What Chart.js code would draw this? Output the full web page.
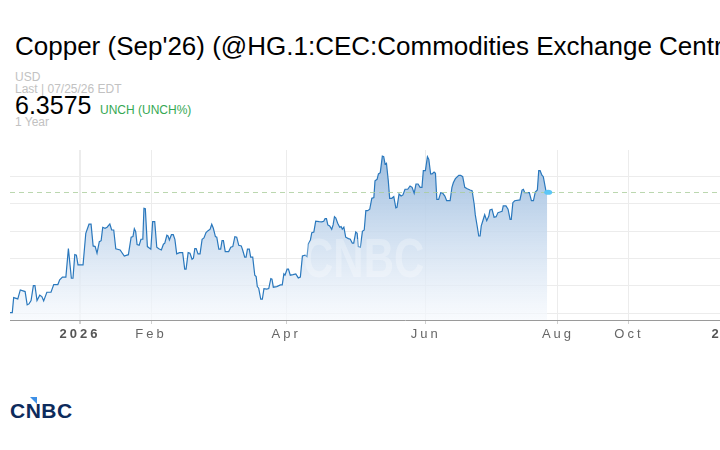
<!DOCTYPE html>
<html>
<head>
<meta charset="utf-8">
<title>Copper (Sep'26)</title>
<script src="https://cdn.jsdelivr.net/npm/chart.js@4.4.1/dist/chart.umd.min.js"></script>
<style>
    html, body {
        margin: 0;
        padding: 0;
        width: 720px;
        height: 450px;
        overflow: hidden;
        background: #fff;
        font-family: "Liberation Sans", Arial, sans-serif;
    }
    .txt { position: absolute; white-space: nowrap; line-height: 1; }
    #title { left: 15px; top: 33px; font-size: 26px; color: #000; }
    #currency { left: 15px; top: 70.5px; font-size: 12px; color: #c2c2c2; }
    #lastTime { left: 15px; top: 82.5px; font-size: 12px; color: #c2c2c2; }
    #price { left: 15px; top: 93px; font-size: 25px; color: #000; }
    #change { left: 100px; top: 104px; font-size: 12px; color: #35a853; }
    #range { left: 15px; top: 116px; font-size: 12px; color: #c2c2c2; }
    #wrap { position: absolute; left: 10px; top: 150px; width: 790px; height: 200px; }
    #watermark {
        left: 303px; top: 231px; font-size: 42px; font-weight: bold;
        color: rgba(255,255,255,0.28); transform: scaleY(1.3); transform-origin: 0 0;
        pointer-events: none;
    }
    #logo { left: 10px; top: 400px; font-size: 21px; font-weight: bold; color: #0d2b5c; letter-spacing: 0.5px; }
    #logoMark {
        position: absolute; left: 30px; top: 397px; width: 0; height: 0;
        border-top: 7px solid #3d8fe6; border-left: 7px solid transparent;
    }
</style>
</head>
<body>
<div class="txt" id="title">Copper (Sep'26) (@HG.1:CEC:Commodities Exchange Centre)</div>
<div class="txt" id="currency">USD</div>
<div class="txt" id="lastTime">Last | 07/25/26 EDT</div>
<div class="txt" id="price">6.3575</div>
<div class="txt" id="change">UNCH (UNCH%)</div>
<div class="txt" id="range">1 Year</div>

<div id="wrap"><canvas id="chart" width="790" height="200" style="width:790px;height:200px"></canvas></div>
<div class="txt" id="watermark">CNBC</div>

<div class="txt" id="logo">CNBC</div>
<div id="logoMark"></div>

<script>
/* ============================
   DATA
   days = calendar days from 1 Jan 2026
============================ */
const days = [
    -30.6, -29.6, -29.0, -27.2, -26.1, -24.0, -23.1, -22.3, -21.4, -20.4,
    -19.7, -18.8, -17.6, -16.7, -15.9, -14.5, -12.7, -11.5, -9.7, -8.9,
    -7.7, -6.2, -5.1, -3.8, -3.1, -2.3, -1.6, -0.9, 1.3, 2.5,
    3.9, 4.8, 5.7, 6.6, 7.4, 8.4, 9.2, 9.9, 10.9, 11.8,
    13.0, 13.8, 14.7, 15.6, 17.5, 19.3, 21.1, 22.3, 23.1, 23.7,
    24.3, 24.9, 25.8, 26.6, 27.4, 27.9, 28.5, 29.4, 30.9, 31.7,
    32.6, 33.5, 34.4, 35.5, 36.4, 37.0, 37.9, 38.4, 39.0, 39.9,
    40.7, 41.4, 42.2, 43.4, 44.8, 45.7, 46.3, 47.2, 48.0, 48.9,
    49.5, 50.1, 50.7, 51.5, 52.4, 53.3, 54.1, 55.0, 55.9, 56.8,
    57.5, 58.2, 59.1, 59.7, 60.6, 61.4, 62.0, 62.6, 63.4, 64.9,
    65.8, 66.7, 67.6, 68.4, 69.3, 70.4, 71.0, 71.9, 72.5, 73.1,
    73.9, 74.5, 75.4, 76.3, 76.9, 77.4, 78.0, 78.9, 79.6, 80.3,
    81.5, 82.4, 83.3, 83.8, 84.4, 85.9, 87.5, 88.3, 89.0, 89.5,
    90.4, 91.0, 91.8, 93.0, 94.2, 95.3, 96.2, 97.1, 98.3, 99.1,
    99.7, 100.6, 101.2, 102.1, 102.9, 104.4, 105.5, 106.4, 107.0, 107.6,
    108.2, 109.0, 109.9, 110.5, 111.1, 111.7, 112.5, 113.4, 114.0, 114.5,
    115.2, 116.0, 117.2, 118.0, 118.9, 119.5, 120.4, 121.0, 121.5, 122.4,
    123.3, 124.1, 124.8, 125.6, 126.5, 127.4, 128.3, 128.8, 129.7, 130.3,
    131.1, 132.0, 132.6, 133.2, 133.8, 134.6, 135.2, 136.1, 137.0, 137.9,
    138.4, 139.3, 140.2, 141.0, 141.9, 143.1, 144.1, 145.0, 145.9, 146.7,
    147.6, 148.5, 149.3, 149.9, 150.8, 151.7, 152.3, 153.1, 153.7, 154.6,
    155.2, 155.8, 156.6, 157.5, 158.4, 159.3, 160.1, 161.6, 162.4, 163.0,
    163.9, 165.4, 166.2, 167.1, 168.0, 169.1, 170.3, 171.2, 172.1, 172.6,
    173.5, 174.1, 174.7, 175.2, 175.9, 176.7, 177.6, 178.5, 179.0, 179.9,
    180.8, 181.7, 182.5, 183.4, 184.3, 184.8, 186.0, 186.9, 187.8, 188.3,
    189.0, 189.8, 192.1, 193.0, 193.6, 194.2, 196.2, 197.1, 198.0, 198.8,
    199.7, 200.3, 200.9, 201.7, 202.3, 203.5, 204
];

const prices = [
    5.256, 5.256, 5.393, 5.381, 5.463, 5.448, 5.326, 5.335, 5.366, 5.503,
    5.503, 5.366, 5.415, 5.402, 5.363, 5.442, 5.442, 5.512, 5.512, 5.555,
    5.580, 5.580, 5.841, 5.570, 5.570, 5.786, 5.781, 5.692, 5.692, 5.982,
    6.065, 6.065, 5.866, 5.860, 5.799, 5.905, 5.914, 6.037, 6.028, 6.037,
    6.067, 6.012, 6.012, 5.839, 5.829, 5.774, 5.786, 5.946, 5.951, 6.024,
    5.997, 5.878, 5.872, 5.927, 5.927, 6.211, 6.207, 5.860, 5.836, 6.088,
    6.088, 5.854, 5.841, 5.829, 5.882, 5.891, 5.964, 5.957, 5.921, 5.969,
    5.969, 5.927, 5.793, 5.805, 5.805, 5.653, 5.653, 5.805, 5.799, 5.744,
    5.753, 5.841, 5.841, 5.793, 5.793, 5.927, 5.939, 5.988, 6.006, 6.019,
    6.065, 6.028, 5.951, 5.946, 5.836, 5.836, 5.914, 5.914, 5.814, 5.814,
    5.854, 5.860, 5.951, 5.946, 5.872, 5.866, 5.829, 5.763, 5.763, 5.836,
    5.836, 5.763, 5.763, 5.598, 5.585, 5.494, 5.479, 5.378, 5.378, 5.475,
    5.470, 5.475, 5.567, 5.561, 5.488, 5.494, 5.509, 5.509, 5.610, 5.598,
    5.653, 5.653, 5.598, 5.603, 5.610, 5.573, 5.580, 5.774, 5.781, 5.768,
    5.884, 5.921, 5.988, 5.994, 6.092, 6.088, 6.086, 6.092, 6.116, 6.116,
    6.058, 6.049, 6.019, 6.058, 6.134, 6.122, 6.074, 6.037, 6.043, 6.019,
    6.037, 5.946, 5.933, 5.927, 5.891, 5.891, 5.994, 5.982, 5.860, 5.854,
    6.000, 6.012, 6.189, 6.189, 6.202, 6.302, 6.308, 6.463, 6.476, 6.525,
    6.537, 6.689, 6.683, 6.616, 6.623, 6.463, 6.302, 6.302, 6.317, 6.214,
    6.220, 6.342, 6.323, 6.333, 6.385, 6.385, 6.415, 6.403, 6.348, 6.433,
    6.433, 6.403, 6.403, 6.555, 6.555, 6.683, 6.659, 6.525, 6.525, 6.543,
    6.531, 6.293, 6.293, 6.354, 6.348, 6.323, 6.280, 6.280, 6.403, 6.445,
    6.482, 6.513, 6.513, 6.500, 6.403, 6.390, 6.378, 6.372, 6.250, 6.150,
    6.037, 5.957, 5.957, 6.049, 6.097, 6.152, 6.097, 6.140, 6.195, 6.202,
    6.129, 6.134, 6.171, 6.177, 6.183, 6.232, 6.232, 6.202, 6.110, 6.110,
    6.262, 6.280, 6.287, 6.378, 6.385, 6.354, 6.354, 6.280, 6.280, 6.360,
    6.378, 6.555, 6.555, 6.513, 6.500, 6.363, 6.3575
];

const lastPrice = 6.3575;

// x axis labels; the months after the last close are squeezed on this chart
const tickDays = [0, 31, 90, 151, 208.7, 239.7, 284.7];
const tickLabels = ["2026", "Feb", "Apr", "Jun", "Aug", "Oct", "2027"];
const isYear = ["2026", "2027"];

const priceTicks = [5.25, 5.5, 5.75, 6.0, 6.25, 6.5];

/* ============================
   PLUGINS
============================ */
const lastPriceLine = {
    id: "lastPriceLine",
    afterDatasetsDraw(chart) {
        const { ctx, chartArea, scales } = chart;
        const y = scales.y.getPixelForValue(lastPrice);
        ctx.save();
        ctx.strokeStyle = "rgba(170,205,155,0.8)";
        ctx.lineWidth = 1;
        ctx.setLineDash([5, 4]);
        ctx.beginPath();
        ctx.moveTo(chartArea.left, Math.round(y) + 0.5);
        ctx.lineTo(chartArea.right, Math.round(y) + 0.5);
        ctx.stroke();
        ctx.restore();

        // light blue marker on the last close
        const meta = chart.getDatasetMeta(0);
        const last = meta.data[meta.data.length - 1];
        ctx.save();
        ctx.fillStyle = "#5cc6f6";
        ctx.beginPath();
        ctx.ellipse(last.x + 1, last.y, 4, 2.6, 0, 0, Math.PI * 2);
        ctx.fill();
        ctx.restore();
    }
};

const spacedLabels = {
    id: "spacedLabels",
    beforeDraw(chart) { chart.ctx.letterSpacing = "3px"; },
    afterDraw(chart) { chart.ctx.letterSpacing = "0px"; }
};

/* ============================
   CHART
============================ */
const ctx = document.getElementById("chart").getContext("2d");

new Chart(ctx, {
    type: "line",
    data: {
        datasets: [{
            data: days.map((d, i) => ({ x: d, y: prices[i] })),
            borderColor: "#2a78bd",
            borderWidth: 1.2,
            pointRadius: 0,
            tension: 0,
            fill: "start",
            backgroundColor: (c) => {
                const area = c.chart.chartArea;
                if (!area) return "rgba(170,196,224,0.6)";
                const g = c.chart.ctx.createLinearGradient(0, area.top, 0, area.bottom);
                g.addColorStop(0, "rgba(150,184,220,0.95)");
                g.addColorStop(0.5, "rgba(200,218,238,0.85)");
                g.addColorStop(1, "rgba(246,249,253,0.7)");
                return g;
            }
        }]
    },
    options: {
        responsive: false,
        animation: false,
        layout: { padding: 0 },
        plugins: {
            legend: { display: false },
            tooltip: { enabled: false }
        },
        scales: {
            x: {
                type: "linear",
                min: -30.6,
                max: 314.4,
                afterBuildTicks: (scale) => {
                    scale.ticks = tickDays.map(v => ({ value: v }));
                },
                afterFit: (scale) => { scale.height = 30; },
                grid: {
                    color: "#ececec",
                    lineWidth: (c) => (c.tick && isYear.includes(tickLabels[c.index]) ? 2 : 1),
                    tickLength: 4,
                    tickColor: "#d0d0d0"
                },
                border: { display: true, color: "#9a9a9a", width: 1 },
                ticks: {
                    autoSkip: false,
                    maxRotation: 0,
                    padding: 3,
                    callback: (value, i) => tickLabels[i],
                    color: (c) => (isYear.includes(tickLabels[c.index]) ? "#555" : "#666"),
                    font: (c) => ({
                        family: "'Liberation Sans', Arial, sans-serif",
                        size: 13,
                        weight: isYear.includes(tickLabels[c.index]) ? "bold" : "normal"
                    })
                }
            },
            y: {
                position: "right",
                min: 5.1877,
                max: 6.7445,
                afterBuildTicks: (scale) => {
                    scale.ticks = priceTicks.map(v => ({ value: v }));
                },
                afterFit: (scale) => { scale.width = 0; },
                grid: { color: "#ececec", drawTicks: false },
                border: { display: false },
                ticks: { display: false }
            }
        }
    },
    plugins: [lastPriceLine, spacedLabels]
});
</script>
</body>
</html>
